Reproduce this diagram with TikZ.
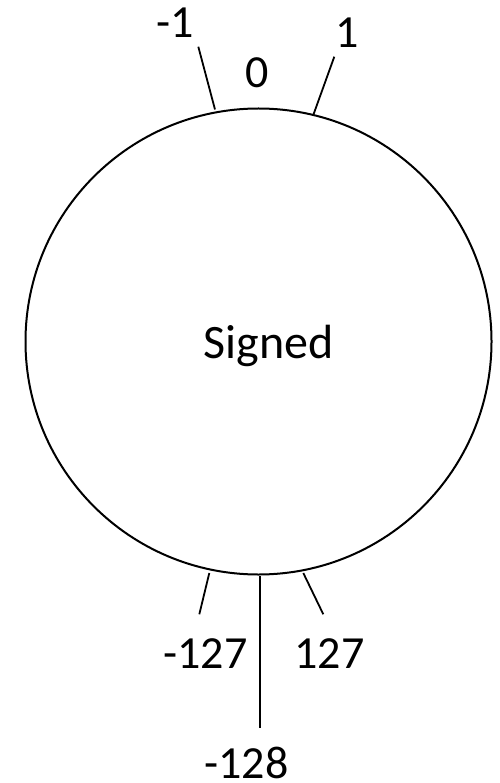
\documentclass[tikz,border=0pt]{standalone}
\usepackage{fontspec}
\setmainfont{Carlito}
\begin{document}
\begin{tikzpicture}[x=1pt,y=-1pt,
  lbl/.style={anchor=base,inner sep=0pt,font=\fontsize{46}{55}\selectfont},
  tick/.style={line width=1.8pt}]
\useasboundingbox (0,0) rectangle (499,783);
\node[draw,circle,line width=2pt,minimum size=466pt,inner sep=0pt] (c) at (258.5,341.5) {};
\node[lbl,font=\fontsize{48}{57}\selectfont] (s) at (268.5,358) {Signed};
\coordinate (t1a) at (198.3,46.7);  \coordinate (t1b) at (215,109.5);
\coordinate (t2a) at (334.3,56.7);  \coordinate (t2b) at (313.3,115);
\coordinate (b1a) at (209.3,573);   \coordinate (b1b) at (199.3,614.3);
\coordinate (b2a) at (260,576);     \coordinate (b2b) at (260,728.3);
\coordinate (b3a) at (303.3,573);   \coordinate (b3b) at (323.3,614.3);
\draw[tick] (t1a) -- (t1b);
\draw[tick] (t2a) -- (t2b);
\draw[tick] (b1a) -- (b1b);
\draw[tick] (b2a) -- (b2b);
\draw[tick] (b3a) -- (b3b);
\node[lbl] (lm1) at (175,38) {-1};
\node[lbl] (l0) at (257.5,88) {0};
\node[lbl] (l1) at (347.5,48) {1};
\node[lbl] (lm127) at (205.5,668) {-127};
\node[lbl] (l127) at (329.5,668) {127};
\node[lbl] (lm128) at (246.5,778) {-128};
\end{tikzpicture}
\end{document}
